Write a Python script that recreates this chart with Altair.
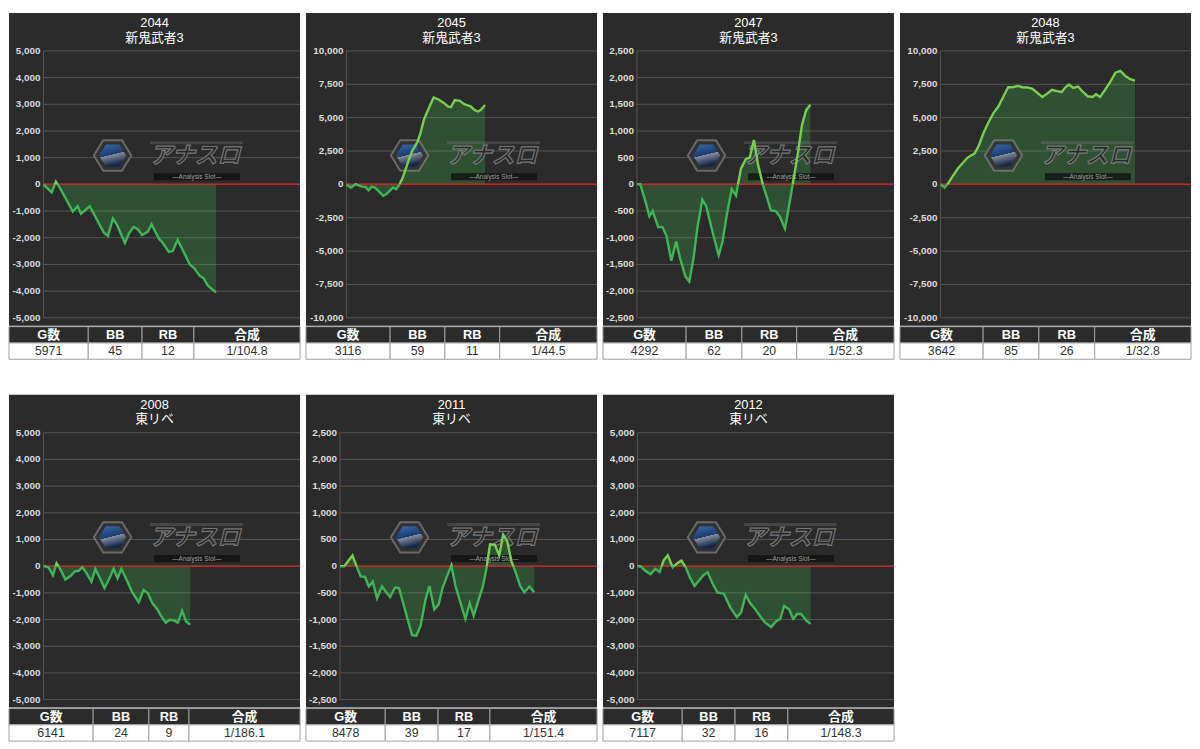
import altair as alt
import pandas as pd

# ---------------- data ----------------
PANEL_IDS = ["2044", "2045", "2047", "2048", "2008", "2011", "2012"]
MACHINES = ["新鬼武者3", "新鬼武者3", "新鬼武者3", "新鬼武者3", "東リベ", "東リベ", "東リベ"]
G_COUNT = [5971, 3116, 4292, 3642, 6141, 8478, 7117]
BB_COUNT = [45, 59, 62, 85, 24, 39, 32]
RB_COUNT = [12, 11, 20, 26, 9, 17, 16]
COMBINED = ["1/104.8", "1/44.5", "1/52.3", "1/32.8", "1/186.1", "1/151.4", "1/148.3"]
TABLE_HEADERS = ["G数", "BB", "RB", "合成"]

TICKS_5000 = [-5000, -4000, -3000, -2000, -1000, 0, 1000, 2000, 3000, 4000, 5000]
TICKS_10000 = [-10000, -7500, -5000, -2500, 0, 2500, 5000, 7500, 10000]
TICKS_2500 = [-2500, -2000, -1500, -1000, -500, 0, 500, 1000, 1500, 2000, 2500]

GAMES_2044 = [0, 282, 428, 563, 1014, 1183, 1296, 1600, 2084, 2231, 2400, 2535, 2817, 2963,
              3121, 3267, 3414, 3605, 3740, 4000, 4112, 4337, 4473, 4642, 5070, 5205, 5408,
              5543, 5689, 5825, 5971]
DIFF_2044 = [0, -300, 100, -120, -1020, -820, -1100, -820, -1800, -1930, -1280, -1500, -2200,
             -1830, -1590, -1690, -1900, -1780, -1500, -2050, -2170, -2530, -2500, -2080,
             -3010, -3130, -3430, -3520, -3800, -3920, -4050]

GAMES_2045 = [0, 95, 205, 351, 424, 497, 571, 644, 717, 827, 900, 1046, 1119, 1192, 1265, 1339,
              1412, 1485, 1595, 1668, 1741, 1851, 1960, 2070, 2180, 2290, 2348, 2436, 2545,
              2655, 2802, 2875, 2962, 3021, 3116]
DIFF_2045 = [0, -240, 0, -170, -190, -440, -170, -240, -490, -850, -730, -240, -360, 0, 490,
             1210, 1940, 2550, 3160, 3880, 4850, 5700, 6500, 6360, 6120, 5830, 5780, 6310,
             6260, 6000, 5830, 5580, 5460, 5580, 5950]

GAMES_2047 = [0, 81, 202, 307, 388, 525, 630, 727, 849, 970, 1067, 1196, 1293, 1398, 1495, 1617,
              1714, 1859, 2021, 2118, 2223, 2344, 2449, 2570, 2692, 2789, 2894, 2991, 3112,
              3217, 3314, 3435, 3540, 3662, 3759, 3880, 3985, 4082, 4187, 4292]
DIFF_2047 = [0, 0, -300, -600, -500, -800, -800, -960, -1430, -1070, -1390, -1720, -1820,
             -1390, -810, -290, -410, -860, -1330, -1070, -570, -90, -210, 290, 470, 500, 830,
             390, 0, -250, -490, -500, -610, -830, -420, 120, 600, 1110, 1390, 1490]

GAMES_2048 = [0, 79, 140, 231, 323, 414, 506, 566, 639, 719, 810, 901, 993, 1084, 1175, 1267,
              1358, 1449, 1541, 1632, 1723, 1815, 1906, 1998, 2089, 2180, 2272, 2332, 2406,
              2485, 2576, 2667, 2759, 2850, 2911, 2990, 3075, 3173, 3276, 3368, 3459, 3550,
              3642]
DIFF_2048 = [0, -240, 50, 610, 1170, 1580, 1990, 2140, 2310, 2910, 3880, 4660, 5340, 5830,
             6550, 7280, 7280, 7380, 7280, 7260, 7160, 6850, 6550, 6800, 7090, 6990, 6920,
             7230, 7480, 7230, 7330, 6920, 6600, 6550, 6750, 6550, 7040, 7650, 8370, 8500,
             8130, 7890, 7770]

GAMES_2008 = [0, 205, 396, 546, 710, 915, 1119, 1324, 1461, 1624, 1802, 2007, 2170, 2348, 2553,
              2757, 2935, 3099, 3263, 3481, 3713, 3986, 4191, 4368, 4559, 4764, 4914, 5119,
              5283, 5488, 5624, 5801, 5965, 6141]
DIFF_2008 = [0, -40, -340, 110, -130, -500, -380, -180, -180, -40, -260, -580, -100, -420,
             -820, -460, -100, -460, -100, -520, -970, -1350, -890, -1010, -1390, -1610,
             -1850, -2120, -2010, -2040, -2120, -1670, -2070, -2190]

GAMES_2011 = [0, 186, 543, 686, 901, 1087, 1258, 1430, 1616, 1831, 2002, 2188, 2403, 2574,
              2760, 2946, 3146, 3332, 3518, 3732, 3904, 4118, 4304, 4475, 4661, 4862, 5048,
              5262, 5477, 5663, 5835, 6050, 6235, 6378, 6550, 6765, 6951, 7122, 7294, 7480,
              7666, 7866, 8052, 8266, 8478]
DIFF_2011 = [0, 0, 200, 40, -190, -200, -380, -290, -600, -380, -480, -580, -400, -410, -690,
             -990, -1290, -1300, -1120, -630, -370, -810, -720, -410, -200, 10, -380, -690,
             -990, -690, -930, -630, -380, -80, 410, 400, 200, 590, 480, 100, -110, -370,
             -490, -380, -490]

GAMES_2012 = [0, 134, 335, 536, 737, 911, 1072, 1246, 1447, 1635, 1809, 1983, 2144, 2345,
              2546, 2707, 2881, 3082, 3283, 3551, 3819, 4087, 4261, 4449, 4623, 4824, 5025,
              5226, 5494, 5695, 5869, 6030, 6231, 6405, 6566, 6727, 6941, 7117]
DIFF_2012 = [0, -10, -180, -300, -100, -220, 210, 410, -40, 110, 210, -40, -400, -740, -520,
             -340, -220, -640, -980, -1030, -1550, -1910, -1730, -1070, -1370, -1590, -1850,
             -2100, -2280, -2070, -1980, -1490, -1610, -1980, -1790, -1790, -2040, -2160]

GAMES = [GAMES_2044, GAMES_2045, GAMES_2047, GAMES_2048, GAMES_2008, GAMES_2011, GAMES_2012]
DIFFS = [DIFF_2044, DIFF_2045, DIFF_2047, DIFF_2048, DIFF_2008, DIFF_2011, DIFF_2012]
Y_LIMIT = [5000, 10000, 2500, 10000, 5000, 2500, 5000]
TICKS = [TICKS_5000, TICKS_10000, TICKS_2500, TICKS_10000, TICKS_5000, TICKS_2500, TICKS_5000]
X_EXTENT = [8878, 5633, 6361, 4690, 10740, 11223, 10548]   # games at the right edge of plot

# ---------------- layout / style ----------------
FONT = "Liberation Sans, Noto Sans CJK JP, sans-serif"
CJK = "Noto Sans CJK JP"
BG = "#2b2b2b"
HEAD_BG = "#2b2b2b"
GRID = "#565656"
ZERO = "#c62828"
UP = "#78cf50"
DOWN = "#3fb757"
AREA = "#3cb44b"
LABEL = "#dcdcdc"

W = 295          # panel width
REF_W = 297.5    # reference panel width (table column edges are in this unit)
HD = 317         # dark plot panel height
TABLE_H = 33
TOP_PX = 38.5
BOT_PX = 309.0
AXIS_LEFT = [35, 41, 34.5, 41, 35, 34.5, 35]
COL_EDGES = [
    [0, 81, 136, 189, REF_W],
    [0, 86, 142, 198, REF_W],
    [0, 85, 142, 198, REF_W],
    [0, 85, 142, 199, REF_W],
    [0, 86, 143, 184, REF_W],
    [0, 81, 135, 188, REF_W],
    [0, 81, 135, 189, REF_W],
]
HEX = "M-1,0L-0.5,-0.81L0.5,-0.81L1,0L0.5,0.81L-0.5,0.81Z"


def zone_gradient(vals):
    hi, lo = max(vals), min(vals)
    off = hi / (hi - lo) if hi > 0 else 0.0
    off = min(max(off, 0.0), 1.0)
    return alt.LinearGradient(
        gradient="linear",
        stops=[alt.GradientStop(color=UP, offset=0), alt.GradientStop(color=UP, offset=off),
               alt.GradientStop(color=DOWN, offset=off), alt.GradientStop(color=DOWN, offset=1)],
        x1=0, x2=0, y1=0, y2=1)


def make_plot(i):
    lim = Y_LIMIT[i]
    ticks = TICKS[i]
    L = AXIS_LEFT[i]
    xr = X_EXTENT[i]
    k = (BOT_PX - TOP_PX) / (2 * lim)
    ydom = [-lim - (HD - BOT_PX) / k, lim + TOP_PX / k]
    xdom = [-L / (W - L) * xr, xr]
    xs = alt.Scale(domain=xdom, nice=False, zero=False)
    ys = alt.Scale(domain=ydom, nice=False, zero=False)

    series = pd.DataFrame({"games": GAMES[i], "diff": DIFFS[i]})
    tick_df = pd.DataFrame({"v": ticks, "lbl": [f"{t:,}" for t in ticks]})
    one = pd.DataFrame({"k": [0]})

    grid = alt.Chart(tick_df).mark_rule(color=GRID, strokeWidth=1).encode(
        y=alt.Y("v:Q", scale=ys, axis=None),
        x=alt.XDatum(0, scale=xs, axis=None),
        x2=alt.X2Datum(xr),
    )
    frame_left = alt.Chart(one).mark_rule(color=GRID, strokeWidth=1).encode(
        x=alt.XDatum(0, scale=xs, axis=None),
        y=alt.YDatum(-lim, scale=ys, axis=None),
        y2=alt.Y2Datum(lim),
    )
    labels = alt.Chart(tick_df).mark_text(
        align="right", baseline="middle", font=FONT, fontSize=10, fontWeight="bold",
        color=LABEL
    ).encode(
        y=alt.Y("v:Q", scale=ys, axis=None),
        x=alt.value(L - 3),
        text="lbl:N",
    )

    # watermark logo (decoration)
    hex_outer = alt.Chart(one).mark_point(
        shape=HEX, size=1440, filled=True, fill="#333333", stroke="#767676",
        strokeWidth=2, opacity=0.85).encode(x=alt.value(105), y=alt.value(144.5))
    hex_inner = alt.Chart(one).mark_point(
        shape=HEX, size=760, filled=True, strokeWidth=0, opacity=0.8,
        fill=alt.LinearGradient(gradient="linear",
                                stops=[alt.GradientStop(color="#3b78c4", offset=0),
                                       alt.GradientStop(color="#143f80", offset=0.55),
                                       alt.GradientStop(color="#9aa4b4", offset=0.56),
                                       alt.GradientStop(color="#0b2550", offset=1)],
                                x1=0, x2=0.3, y1=0, y2=1)
    ).encode(x=alt.value(105), y=alt.value(144.5))
    logo_strip = alt.Chart(one).mark_rect(color="#8a8a8a", opacity=0.28).encode(
        x=alt.value(143), x2=alt.value(237), y=alt.value(130), y2=alt.value(133))
    logo_bar = alt.Chart(one).mark_rect(color="#111111", opacity=0.8).encode(
        x=alt.value(147), x2=alt.value(234), y=alt.value(162.5), y2=alt.value(169.5))
    logo_text = alt.Chart(one).mark_text(
        text="アナスロ", font=CJK, fontSize=23, fontStyle="italic", fontWeight="bold",
        fill="#262626", stroke="#7e7e7e", strokeWidth=1.2, opacity=0.9
    ).encode(x=alt.value(188.5), y=alt.value(145.5))
    logo_sub = alt.Chart(one).mark_text(
        text="—Analysis Slot—", font=FONT, fontSize=6.5, color="#b0b0b0", opacity=0.9
    ).encode(x=alt.value(190.5), y=alt.value(166.2))

    area = alt.Chart(series).mark_area(color=AREA, opacity=0.27).encode(
        x=alt.X("games:Q", scale=xs, axis=None),
        y=alt.Y("diff:Q", scale=ys, axis=None),
        y2=alt.Y2Datum(0),
    )
    zero = alt.Chart(one).mark_rule(color=ZERO, strokeWidth=1.5).encode(
        y=alt.YDatum(0, scale=ys, axis=None),
        x=alt.XDatum(0, scale=xs, axis=None),
        x2=alt.X2Datum(xr),
    )
    line = alt.Chart(series).mark_line(color=zone_gradient(DIFFS[i]), strokeWidth=2.4).encode(
        x=alt.X("games:Q", scale=xs, axis=None),
        y=alt.Y("diff:Q", scale=ys, axis=None),
    )

    return alt.layer(grid, frame_left, labels, area, hex_outer, hex_inner, logo_strip, logo_bar,
                     logo_text, logo_sub, zero, line).properties(
        width=W, height=HD,
        view=alt.ViewBackground(fill=BG, strokeWidth=0),
        title=alt.TitleParams(text=[PANEL_IDS[i], MACHINES[i]], color="#ffffff", fontSize=13,
                              font=FONT, fontWeight="normal", anchor="middle", frame="group",
                              offset=-32, lineHeight=15),
    )


def make_table(i):
    edges = COL_EDGES[i]
    vals = [str(G_COUNT[i]), str(BB_COUNT[i]), str(RB_COUNT[i]), COMBINED[i]]
    df = pd.DataFrame({
        "x0": edges[:-1] * 2,
        "x1": edges[1:] * 2,
        "row": ["head"] * 4 + ["val"] * 4,
        "label": TABLE_HEADERS + vals,
    })
    df["xm"] = (df["x0"] + df["x1"]) / 2
    xs = alt.Scale(domain=[0, REF_W], nice=False, zero=False)
    ys = alt.Scale(domain=["head", "val"], paddingInner=0, paddingOuter=0)
    cells = alt.Chart(df).mark_rect(stroke="#a0a0a0", strokeWidth=1).encode(
        x=alt.X("x0:Q", scale=xs, axis=None),
        x2=alt.X2("x1"),
        y=alt.Y("row:N", scale=ys, axis=None),
        fill=alt.Fill("row:N", scale=alt.Scale(domain=["head", "val"], range=[HEAD_BG, "#ffffff"]),
                      legend=None),
    )
    head = alt.Chart(df).transform_filter("datum.row == 'head'").mark_text(
        color="#ffffff", fontWeight="bold", fontSize=13, font=FONT).encode(
        x=alt.X("xm:Q", scale=xs, axis=None), y=alt.Y("row:N", scale=ys, axis=None),
        text="label:N")
    val = alt.Chart(df).transform_filter("datum.row == 'val'").mark_text(
        color="#333333", fontSize=12.5, font=FONT).encode(
        x=alt.X("xm:Q", scale=xs, axis=None), y=alt.Y("row:N", scale=ys, axis=None),
        text="label:N")
    return alt.layer(cells, head, val).properties(width=W, height=TABLE_H)


panels = [alt.vconcat(make_plot(i), make_table(i), spacing=0) for i in range(7)]
row1 = alt.hconcat(*panels[:4], spacing=4)
row2 = alt.hconcat(*panels[4:], spacing=4)
chart = alt.vconcat(row1, row2, spacing=35).properties(
    padding=0, background="#ffffff").configure_view(strokeWidth=0)

chart.save("out.html", embed_options={"renderer": "svg", "actions": False})
